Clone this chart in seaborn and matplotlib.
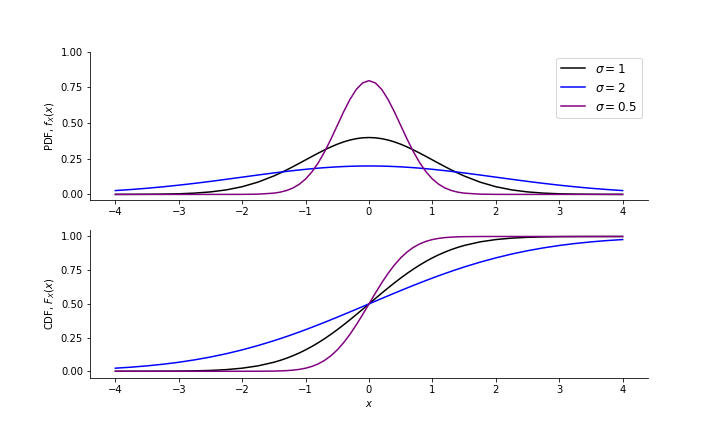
import numpy as np
import matplotlib
matplotlib.use('Agg')
import matplotlib.pyplot as plt
import seaborn as sns

# x grid (finer steps near the centre)
x_pos = [0.0, 0.1, 0.2, 0.3, 0.4, 0.5, 0.6, 0.7, 0.8, 0.9, 1.0, 1.1, 1.2,
         1.3, 1.4, 1.5, 1.75, 2.0, 2.25, 2.5, 2.75, 3.0, 3.25, 3.5, 3.75, 4.0]

# PDF values for x >= 0 (curves are symmetric)
pdf_s1_pos = [0.3989, 0.3970, 0.3910, 0.3814, 0.3683, 0.3521, 0.3332, 0.3123,
              0.2897, 0.2661, 0.2420, 0.2179, 0.1942, 0.1714, 0.1497, 0.1295,
              0.0863, 0.0540, 0.0317, 0.0175, 0.0091, 0.0044, 0.0020, 0.0009,
              0.0004, 0.0001]
pdf_s2_pos = [0.1995, 0.1992, 0.1985, 0.1972, 0.1955, 0.1933, 0.1907, 0.1876,
              0.1842, 0.1802, 0.1760, 0.1714, 0.1666, 0.1615, 0.1561, 0.1506,
              0.1361, 0.1210, 0.1060, 0.0913, 0.0775, 0.0648, 0.0533, 0.0431,
              0.0344, 0.0270]
pdf_s05_pos = [0.7979, 0.7821, 0.7366, 0.6664, 0.5794, 0.4839, 0.3884, 0.2995,
               0.2218, 0.1579, 0.1080, 0.0710, 0.0448, 0.0272, 0.0158, 0.0089,
               0.0017, 0.0003, 0.0000, 0.0000, 0.0000, 0.0000, 0.0000, 0.0000,
               0.0000, 0.0000]

# CDF values for x >= 0
cdf_s1_pos = [0.5000, 0.5398, 0.5793, 0.6179, 0.6554, 0.6915, 0.7257, 0.7580,
              0.7881, 0.8159, 0.8413, 0.8643, 0.8849, 0.9032, 0.9192, 0.9332,
              0.9599, 0.9772, 0.9878, 0.9938, 0.9970, 0.9987, 0.9994, 0.9998,
              0.9999, 1.0000]
cdf_s2_pos = [0.5000, 0.5199, 0.5398, 0.5596, 0.5793, 0.5987, 0.6179, 0.6368,
              0.6554, 0.6736, 0.6915, 0.7088, 0.7257, 0.7422, 0.7580, 0.7734,
              0.8092, 0.8413, 0.8697, 0.8944, 0.9154, 0.9332, 0.9479, 0.9599,
              0.9696, 0.9772]
cdf_s05_pos = [0.5000, 0.5793, 0.6554, 0.7257, 0.7881, 0.8413, 0.8849, 0.9192,
               0.9452, 0.9641, 0.9772, 0.9861, 0.9918, 0.9953, 0.9974, 0.9987,
               0.9998, 1.0000, 1.0000, 1.0000, 1.0000, 1.0000, 1.0000, 1.0000,
               1.0000, 1.0000]

labels = [r'$\sigma = 1$', r'$\sigma = 2$', r'$\sigma = 0.5$']
colors = ['black', 'blue', 'purple']

# mirror the readings onto the negative side
x = np.concatenate([-np.array(x_pos[:0:-1]), x_pos])


def mirror_pdf(v):
    return np.concatenate([np.array(v[:0:-1]), v])


def mirror_cdf(v):
    return np.concatenate([1 - np.array(v[:0:-1]), v])


pdfs = [mirror_pdf(v) for v in (pdf_s1_pos, pdf_s2_pos, pdf_s05_pos)]
cdfs = [mirror_cdf(v) for v in (cdf_s1_pos, cdf_s2_pos, cdf_s05_pos)]

fig, (ax1, ax2) = plt.subplots(2, 1, figsize=(10, 6), dpi=72)
fig.subplots_adjust(left=0.125, right=0.9, top=0.88, bottom=0.125, hspace=0.2)

for y, c, lab in zip(pdfs, colors, labels):
    sns.lineplot(x=x, y=y, color=c, label=lab, ax=ax1)
for y, c in zip(cdfs, colors):
    sns.lineplot(x=x, y=y, color=c, ax=ax2)

ax1.set_ylim(top=1.0)
ax1.set_yticks([0, 0.25, 0.5, 0.75, 1.0])
ax2.set_yticks([0, 0.25, 0.5, 0.75, 1.0])
ax1.set_ylabel(r'PDF, $f_X(x)$', fontsize=10)
ax2.set_ylabel(r'CDF, $F_X(x)$', fontsize=10)
ax2.set_xlabel(r'$x$', fontsize=10)
ax1.legend(loc='upper right', fontsize=12)
sns.despine(fig)

fig.savefig('out.png')
